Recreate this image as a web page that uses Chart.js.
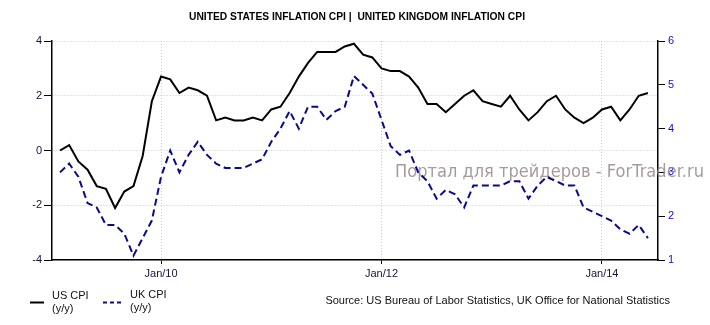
<!DOCTYPE html>
<html>
<head>
<meta charset="utf-8">
<script src="https://cdn.jsdelivr.net/npm/chart.js@4.4.0/dist/chart.umd.min.js"></script>
<style>
  html, body { margin: 0; padding: 0; background: #fff; }
  #wrap { position: relative; width: 710px; height: 325px; }
</style>
</head>
<body>
<div id="wrap"><canvas id="grafico" width="710" height="325"></canvas></div>
<script>
// CPI y/y, monthly, Jan 2009 .. May 2014
var usCpi = [0.0, 0.2, -0.4, -0.7, -1.3, -1.4, -2.1, -1.5, -1.3, -0.2, 1.8, 2.7,
             2.6, 2.1, 2.3, 2.2, 2.0, 1.1, 1.2, 1.1, 1.1, 1.2, 1.1, 1.5,
             1.6, 2.1, 2.7, 3.2, 3.6, 3.6, 3.6, 3.8, 3.9, 3.5, 3.4, 3.0,
             2.9, 2.9, 2.7, 2.3, 1.7, 1.7, 1.4, 1.7, 2.0, 2.2, 1.8, 1.7,
             1.6, 2.0, 1.5, 1.1, 1.4, 1.8, 2.0, 1.5, 1.2, 1.0, 1.2, 1.5,
             1.6, 1.1, 1.5, 2.0, 2.1];
var ukCpi = [3.0, 3.2, 2.9, 2.3, 2.2, 1.8, 1.8, 1.6, 1.1, 1.5, 1.9, 2.9,
             3.5, 3.0, 3.4, 3.7, 3.4, 3.2, 3.1, 3.1, 3.1, 3.2, 3.3, 3.7,
             4.0, 4.4, 4.0, 4.5, 4.5, 4.2, 4.4, 4.5, 5.2, 5.0, 4.8, 4.2,
             3.6, 3.4, 3.5, 3.0, 2.8, 2.4, 2.6, 2.5, 2.2, 2.7, 2.7, 2.7,
             2.7, 2.8, 2.8, 2.4, 2.7, 2.9, 2.8, 2.7, 2.7, 2.2, 2.1, 2.0,
             1.9, 1.7, 1.6, 1.8, 1.5];
var xTicks = [11, 35, 59];
var xTickLabels = ['Jan/10', 'Jan/12', 'Jan/14'];
var usTicks = [-4, -2, 0, 2, 4];
var ukTicks = [1, 2, 3, 4, 5, 6];

var titulo = 'UNITED STATES INFLATION CPI |  UNITED KINGDOM INFLATION CPI';
var fuente = 'Source: US Bureau of Labor Statistics, UK Office for National Statistics';
var marca = 'Портал для трейдеров - ForTrader.ru';

function puntos(serie){
  var out = [];
  for (var i = 0; i < serie.length; i++) out.push({x: i, y: serie[i]});
  return out;
}

var UK_COLOR = '#0a0a8c';
var GRID = '#c8c8c8';
var FONT = "'Liberation Sans', Arial, sans-serif";
var NARROW = "'Liberation Sans Narrow', 'Liberation Sans', Arial, sans-serif";

// title, legend, source and the watermark are painted by hand
var extras = {
  id: 'extras',
  beforeDatasetsDraw: function(chart){
    var ctx = chart.ctx;
    ctx.save();
    ctx.font = '17px ' + "'DejaVu Sans', sans-serif";
    ctx.fillStyle = 'rgba(150,138,138,0.85)';
    ctx.textBaseline = 'middle';
    ctx.textAlign = 'left';
    ctx.fillText(marca, 395, 173, 309);
    ctx.restore();
  },
  afterDraw: function(chart){
    var ctx = chart.ctx;
    ctx.save();
    ctx.fillStyle = '#000';
    ctx.textBaseline = 'middle';
    ctx.textAlign = 'center';
    ctx.font = 'bold 11px ' + NARROW;
    ctx.fillText(titulo, 357, 17, 336);

    // legend
    ctx.lineWidth = 2;
    ctx.strokeStyle = '#000';
    ctx.beginPath(); ctx.moveTo(30, 302.5); ctx.lineTo(44, 302.5); ctx.stroke();
    ctx.strokeStyle = UK_COLOR;
    ctx.setLineDash([4, 3]);
    ctx.beginPath(); ctx.moveTo(103, 302.5); ctx.lineTo(121, 302.5); ctx.stroke();
    ctx.setLineDash([]);

    ctx.textAlign = 'left';
    ctx.fillStyle = '#111';
    ctx.font = '11px ' + NARROW;
    ctx.fillText('US CPI', 52, 296);
    ctx.fillText('(y/y)', 52, 309);
    ctx.fillText('UK CPI', 130, 295);
    ctx.fillText('(y/y)', 130, 308);

    ctx.textAlign = 'right';
    ctx.fillText(fuente, 670, 301, 391);
    ctx.restore();
  }
};

var ctx = document.getElementById('grafico');
var myChart = new Chart(ctx, {
  type: 'line',
  data: {
    datasets: [{
      label: 'US CPI',
      data: puntos(usCpi),
      yAxisID: 'yUS',
      borderColor: '#000',
      borderWidth: 2,
      pointRadius: 0,
      tension: 0
    }, {
      label: 'UK CPI',
      data: puntos(ukCpi),
      yAxisID: 'yUK',
      borderColor: UK_COLOR,
      borderWidth: 2,
      borderDash: [7, 4],
      pointRadius: 0,
      tension: 0
    }]
  },
  options: {
    responsive: false,
    animation: false,
    devicePixelRatio: 1,
    layout: { padding: { left: 0, right: 0, top: 41, bottom: 45 } },
    plugins: {
      legend: { display: false },
      title: { display: false },
      tooltip: { enabled: false }
    },
    scales: {
      x: {
        type: 'linear',
        min: -0.87,
        max: 65.1,
        afterBuildTicks: function(scale){
          scale.ticks = xTicks.map(function(v){ return {value: v}; });
        },
        afterFit: function(scale){ scale.height = 20; },
        ticks: {
          autoSkip: false,
          maxRotation: 0,
          padding: 3,
          color: '#14143c',
          font: { family: FONT, size: 11 },
          callback: function(value){
            var k = xTicks.indexOf(value);
            return k >= 0 ? xTickLabels[k] : '';
          }
        },
        grid: { color: GRID, lineWidth: 1, tickColor: '#000', tickLength: 4 },
        border: { color: '#000', width: 1.5, dash: [1, 2] }
      },
      yUS: {
        position: 'left',
        min: -4,
        max: 4,
        afterBuildTicks: function(scale){
          scale.ticks = usTicks.map(function(v){ return {value: v}; });
        },
        afterFit: function(scale){ scale.width = 52; },
        ticks: {
          padding: 2,
          color: '#14143c',
          font: { family: FONT, size: 11 }
        },
        grid: { color: GRID, lineWidth: 1, tickColor: '#000', tickLength: 8 },
        border: { color: '#000', width: 1.5, dash: [1, 2] }
      },
      yUK: {
        position: 'right',
        min: 1,
        max: 6,
        afterBuildTicks: function(scale){
          scale.ticks = ukTicks.map(function(v){ return {value: v}; });
        },
        afterFit: function(scale){ scale.width = 52; },
        ticks: {
          padding: 3,
          color: '#1010cc',
          font: { family: FONT, size: 11 }
        },
        grid: { drawOnChartArea: false, tickColor: '#000', tickLength: 7 },
        border: { color: '#000', width: 1.5 }
      }
    }
  },
  plugins: [extras]
});
</script>
</body>
</html>
